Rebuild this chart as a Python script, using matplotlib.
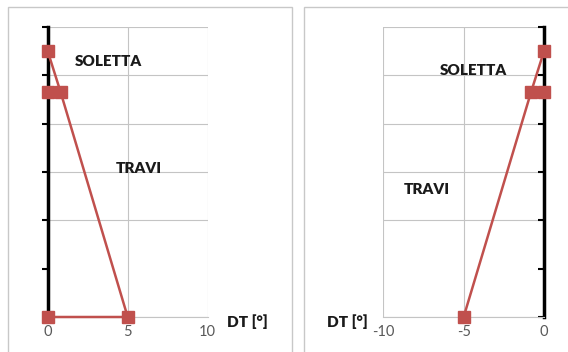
import matplotlib.pyplot as plt
from matplotlib.patches import Rectangle

# temperature profiles along the section height (DT in deg, height in grid units)
left_dt = [0, 0.8, 5, 0]
left_h = [5.5, 4.66, 0, 0]
right_dt = [0, -0.8, -5]
right_h = [5.5, 4.66, 0]
# slab / beam interface point on the axis
interface_dt = [0]
interface_h = [4.66]

left_xticks = [0, 5, 10]
right_xticks = [-10, -5, 0]
yticks = [0, 1, 2, 3, 4, 5, 6]

red = '#C0504D'
plt.rcParams['font.family'] = ['Lato', 'DejaVu Sans']
plt.rcParams['axes.unicode_minus'] = False

fig = plt.figure(figsize=(5.68, 3.52), dpi=100)

# panel frames
fig.patches.append(Rectangle((8 / 568, -0.1), (292 - 8) / 568, 1.1 - 7 / 352,
                             transform=fig.transFigure, fill=False, ec='#c8c8c8', lw=1))
fig.patches.append(Rectangle((304 / 568, -0.1), 1, 1.1 - 7 / 352,
                             transform=fig.transFigure, fill=False, ec='#c8c8c8', lw=1))

ax1 = fig.add_axes([47.7 / 568, 35 / 352, 160 / 568, 290 / 352])
ax2 = fig.add_axes([383.3 / 568, 35 / 352, 160.7 / 568, 290 / 352])


def style(ax, xlim, xticks, axis_side):
    ax.set_xlim(*xlim)
    ax.set_ylim(0, 6)
    ax.set_xticks(xticks)
    ax.set_yticks(yticks)
    ax.set_yticklabels([])
    ax.grid(True, color='#c4c4c4', lw=0.8)
    ax.yaxis.get_gridlines()[1].set_visible(False)
    ax.set_axisbelow(True)
    for s in ax.spines.values():
        s.set_visible(False)
    ax.spines['bottom'].set_visible(True)
    ax.spines['bottom'].set_color('#c4c4c4')
    ax.spines['bottom'].set_linewidth(0.8)
    ax.spines[axis_side].set_visible(True)
    ax.spines[axis_side].set_color('black')
    ax.spines[axis_side].set_linewidth(2.5)
    ax.spines[axis_side].set_zorder(1)
    ax.tick_params(axis='x', length=0, labelsize=10.5, labelcolor='#595959', pad=6)
    if axis_side == 'right':
        ax.yaxis.tick_right()
        ax.tick_params(axis='y', direction='in', length=4, width=1.5, color='black')
    else:
        ax.tick_params(axis='y', direction='out', length=4, width=1.5, color='black')


style(ax1, (0, 10), left_xticks, 'left')
style(ax2, (-10, 0), right_xticks, 'right')

ax1.plot(left_dt, left_h, color=red, lw=1.8, marker='s', ms=8.5, clip_on=False, zorder=3)
ax1.plot(interface_dt, interface_h, color=red, marker='s', ms=8.5, ls='none', clip_on=False, zorder=3)
ax2.plot(right_dt, right_h, color=red, lw=1.8, marker='s', ms=8.5, clip_on=False, zorder=3)
ax2.plot(interface_dt, interface_h, color=red, marker='s', ms=8.5, ls='none', clip_on=False, zorder=3)

tkw = dict(fontsize=11, fontweight='heavy', color='#1a1a1a', ha='center', va='center')
ax1.text(3.77, 5.28, 'SOLETTA', **tkw)
ax1.text(5.7, 3.08, 'TRAVI', **tkw)
ax1.text(12.5, -0.1, 'DT [°]', clip_on=False, **tkw)
ax2.text(-4.41, 5.11, 'SOLETTA', **tkw)
ax2.text(-7.27, 2.63, 'TRAVI', **tkw)
ax2.text(-12.24, -0.1, 'DT [°]', clip_on=False, **tkw)

fig.savefig('out.png', dpi=100)
